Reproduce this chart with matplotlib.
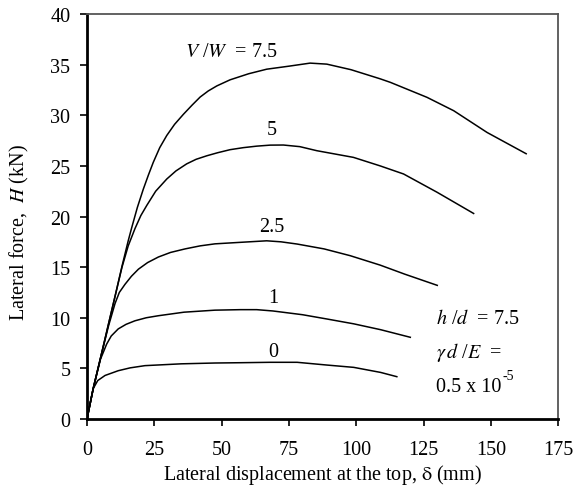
import matplotlib
matplotlib.use("Agg")
import matplotlib.pyplot as plt

plt.rcParams['font.family'] = ['Liberation Serif', 'DejaVu Serif']
plt.rcParams['mathtext.fontset'] = 'stix'

# displacement (mm), lateral force (kN) for each V/W value
x_0 = [0, 2.3, 4, 6.7, 11.6, 16, 21.5, 35, 47.5, 57, 68, 78, 89, 99, 109, 115]
y_0 = [0, 3.0, 3.8, 4.3, 4.77, 5.05, 5.27, 5.45, 5.53, 5.56, 5.6, 5.6, 5.33, 5.1, 4.6, 4.18]

x_1 = [0, 2.3, 5, 7.3, 9, 11.6, 14.5, 17.8, 22, 26.5, 36, 47.5, 57, 63, 69, 80, 89, 99, 109, 120]
y_1 = [0, 3.0, 5.9, 7.4, 8.2, 8.9, 9.35, 9.7, 10.0, 10.2, 10.55, 10.75, 10.8, 10.8, 10.67, 10.3, 9.88, 9.4, 8.82, 8.07]

x_2_5 = [0, 2.3, 5, 8, 10.4, 12, 14.1, 16.5, 19.1, 22.5, 26.5, 31, 36.4, 42, 47.5, 57, 66.7, 72, 78, 88, 97.7, 108.8, 118, 130]
y_2_5 = [0, 3.0, 6.0, 9.2, 11.4, 12.5, 13.3, 14.1, 14.8, 15.45, 16.0, 16.45, 16.8, 17.1, 17.3, 17.45, 17.6, 17.5, 17.28, 16.8, 16.13, 15.2, 14.3, 13.2]

x_5 = [0, 2.3, 5, 8, 10.4, 13, 15.3, 17.8, 20, 22.2, 25.5, 29.6, 33, 37, 40.5, 44.5, 48.5, 53.1, 58, 63, 68, 72.9, 79, 85.3, 98.9, 108.8, 117.5, 129.9, 143.5]
y_5 = [0, 3.0, 6.0, 9.4, 12.1, 15.0, 17.1, 18.8, 20.1, 21.1, 22.5, 23.7, 24.5, 25.2, 25.65, 26.0, 26.3, 26.6, 26.8, 26.95, 27.05, 27.06, 26.9, 26.5, 25.84, 25.0, 24.2, 22.4, 20.3]

x_7_5 = [0, 2.3, 5, 8, 10.4, 13, 15.3, 16.6, 18.7, 20.9, 22.8, 24.6, 27, 29.6, 32.5, 35.8, 39, 42, 45, 48.2, 53.1, 60, 66.7, 75, 82.8, 89, 98, 108.8, 112.6, 126.2, 136.1, 148.5, 163]
y_7_5 = [0, 3.0, 6.0, 9.4, 12.1, 15.1, 17.6, 18.9, 20.9, 22.7, 24.1, 25.35, 26.8, 28.0, 29.1, 30.1, 31.0, 31.8, 32.4, 32.9, 33.5, 34.1, 34.55, 34.85, 35.15, 35.05, 34.5, 33.6, 33.25, 31.77, 30.45, 28.3, 26.2]

series = [(x_0, y_0), (x_1, y_1), (x_2_5, y_2_5), (x_5, y_5), (x_7_5, y_7_5)]
curve_labels = ["0", "1", "2.5", "5", r"$V$ /$W$  = 7.5"]
label_pos = [(69, 6.7), (69, 12.0), (68.7, 19.0), (68.7, 28.6), (53.5, 36.3)]

x_ticks = [0, 25, 50, 75, 100, 125, 150, 175]
y_ticks = [0, 5, 10, 15, 20, 25, 30, 35, 40]

fs = 14.5

fig = plt.figure(figsize=(5.85, 4.89), dpi=100)
ax = fig.add_axes([0.1487, 0.1411, 0.8060, 0.8282])

for (xs, ys) in series:
    ax.plot(xs, ys, color='black', lw=1.1)

for lab, (lx, ly) in zip(curve_labels, label_pos):
    ax.text(lx, ly, lab, fontsize=fs, ha='center', va='center')

ax.text(129.5, 9.9, r"$h$ /$d$  = 7.5", fontsize=fs, ha='left', va='center')
ax.text(129.5, 6.7, r"$\gamma\,d$ /$E$  =", fontsize=fs, ha='left', va='center')
t = ax.text(129.5, 3.2, "0.5 x 10", fontsize=fs, ha='left', va='center')
ax.annotate("-5", xy=(1, 0.75), xycoords=t, xytext=(1, 0), textcoords='offset points',
            fontsize=10, ha='left', va='bottom')

ax.set_xlim(0, 175)
ax.set_ylim(0, 40)
ax.set_xticks(x_ticks)
ax.set_yticks(y_ticks)
ax.tick_params(direction='out', length=5, width=1.2, labelsize=fs, colors='black')
ax.tick_params(axis='x', pad=10)
ax.tick_params(axis='y', pad=7)

for s in ['left', 'bottom']:
    ax.spines[s].set_linewidth(2.0)
    ax.spines[s].set_color('black')
for s in ['top', 'right']:
    ax.spines[s].set_linewidth(1.3)
    ax.spines[s].set_color('#555555')

ax.set_xlabel(r"Lateral displacement at the top, $\mathrm{\delta}$ (mm)", fontsize=fs, labelpad=2)
ax.set_ylabel(r"Lateral force,  $H$ (kN)", fontsize=fs)
ax.yaxis.set_label_coords(-0.118, 0.462)

fig.savefig("out.png", dpi=100)
